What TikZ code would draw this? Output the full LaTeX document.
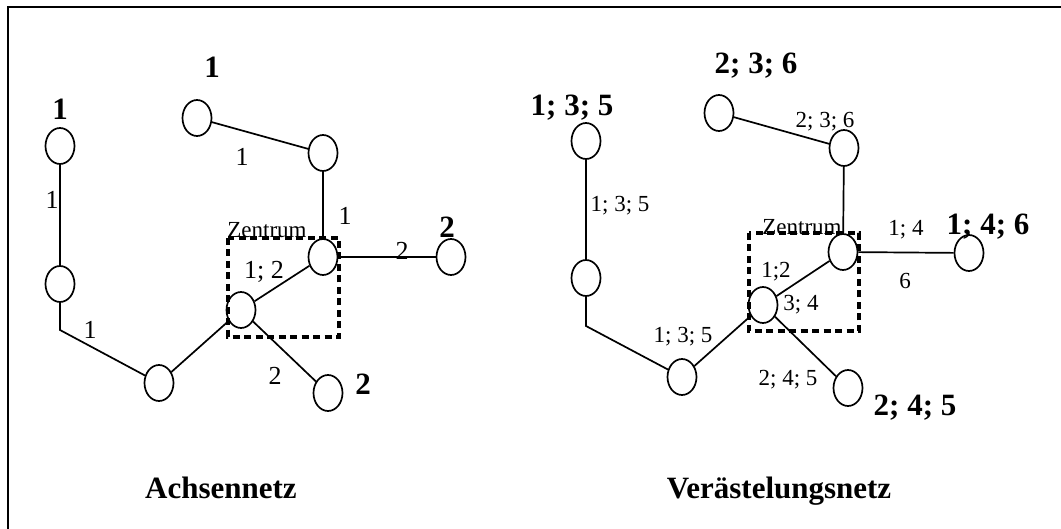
\documentclass[tikz,border=0pt]{standalone}
\usepackage{fontspec}
\setmainfont{Liberation Serif}
\usetikzlibrary{shapes.geometric}
\begin{document}
\begin{tikzpicture}[x=1pt,y=-1pt,
  knot/.style={draw,ellipse,line width=1.7pt,inner sep=0pt,minimum width=29pt,minimum height=36pt},
  edge/.style={line width=1.7pt},
  zbox/.style={line width=3.2pt,dash pattern=on 7pt off 4.5pt},
  big/.style={font=\bfseries\fontsize{31}{31}\selectfont,inner sep=0pt},
  lab/.style={font=\fontsize{26}{26}\selectfont,inner sep=0pt},
  zlab/.style={font=\fontsize{23}{23}\selectfont,inner sep=0pt},
  slab/.style={font=\fontsize{23}{23}\selectfont,inner sep=0pt},
  ttl/.style={font=\bfseries\fontsize{31}{31}\selectfont,inner sep=0pt,anchor=base}]
\useasboundingbox (0,0) rectangle (1061,529);
\draw[line width=2.4pt] (8,600) -- (8,7) -- (1100,7);
% ---------- Achsennetz ----------
\node[knot] (a1) at (60,146) {};
\node[knot] (a2) at (60,284) {};
\coordinate (ab) at (60,330);
\node[knot] (a3) at (159,383) {};
\node[knot] (a4) at (241,310) {};
\node[knot] (a5) at (323,257) {};
\node[knot] (a6) at (323,153) {};
\node[knot] (a7) at (197,118) {};
\node[knot] (a8) at (451,257) {};
\node[knot] (a9) at (328,393) {};
\draw[edge] (a1) -- (a2);
\draw[edge] (a2) -- (ab) -- (a3);
\draw[edge] (a3) -- (a4);
\draw[edge] (a4) -- (a5);
\draw[edge] (a5) -- (a6);
\draw[edge] (a6) -- (a7);
\draw[edge] (a5) -- (a8);
\draw[edge] (a4) -- (a9);
\draw[zbox] (228,238) rectangle (339,337);
\node[zlab] (az) at (267,230) {Zentrum};
\node[lab] (al1) at (52,200) {1};
\node[lab] (al2) at (242,157) {1};
\node[lab] (al3) at (345,216) {1};
\node[lab] (al4) at (402,251) {2};
\node[lab] (al5) at (264,272) {1; 2};
\node[lab] (al6) at (90,330) {1};
\node[lab] (al7) at (275,376) {2};
\node[big] (ab1) at (212,67) {1};
\node[big] (ab2) at (60,109) {1};
\node[big] (ab3) at (447,227) {2};
\node[big] (ab4) at (363,384) {2};
\node[ttl] (at) at (221,498) {Achsennetz};
% ---------- Verästelungsnetz ----------
\node[knot] (b1) at (586,141) {};
\node[knot] (b2) at (586,278) {};
\coordinate (bb) at (586,326);
\node[knot] (b3) at (682,377) {};
\node[knot] (b4) at (763,305) {};
\node[knot] (b5) at (843,252) {};
\node[knot] (b6) at (844,148) {};
\node[knot] (b7) at (719,113) {};
\node[knot] (b8) at (969,253) {};
\node[knot] (b9) at (848,388) {};
\draw[edge] (b1) -- (b2);
\draw[edge] (b2) -- (bb) -- (b3);
\draw[edge] (b3) -- (b4);
\draw[edge] (b4) -- (b5);
\draw[edge] (b5) -- (b6);
\draw[edge] (b6) -- (b7);
\draw[edge] (b5) -- (b8);
\draw[edge] (b4) -- (b9);
\draw[zbox] (749,233) rectangle (859,331);
\node[zlab] (bz) at (802,227) {Zentrum};
\node[slab] (bl1) at (620,206) {1; 3; 5};
\node[slab] (bl2) at (825,122) {2; 3; 6};
\node[slab] (bl3) at (906,230) {1; 4};
\node[slab] (bl4) at (905,281) {6};
\node[slab] (bl5) at (776,272) {1;2};
\node[slab] (bl6) at (801,305) {3; 4};
\node[slab] (bl7) at (683,337) {1; 3; 5};
\node[slab] (bl8) at (788,380) {2; 4; 5};
\node[big] (bb1) at (572,108) {1; 3; 5};
\node[big] (bb2) at (756,66) {2; 3; 6};
\node[big] (bb3) at (988,227) {1; 4; 6};
\node[big] (bb4) at (915,408) {2; 4; 5};
\node[ttl] (bt) at (779,498) {Verästelungsnetz};
\end{tikzpicture}
\end{document}
